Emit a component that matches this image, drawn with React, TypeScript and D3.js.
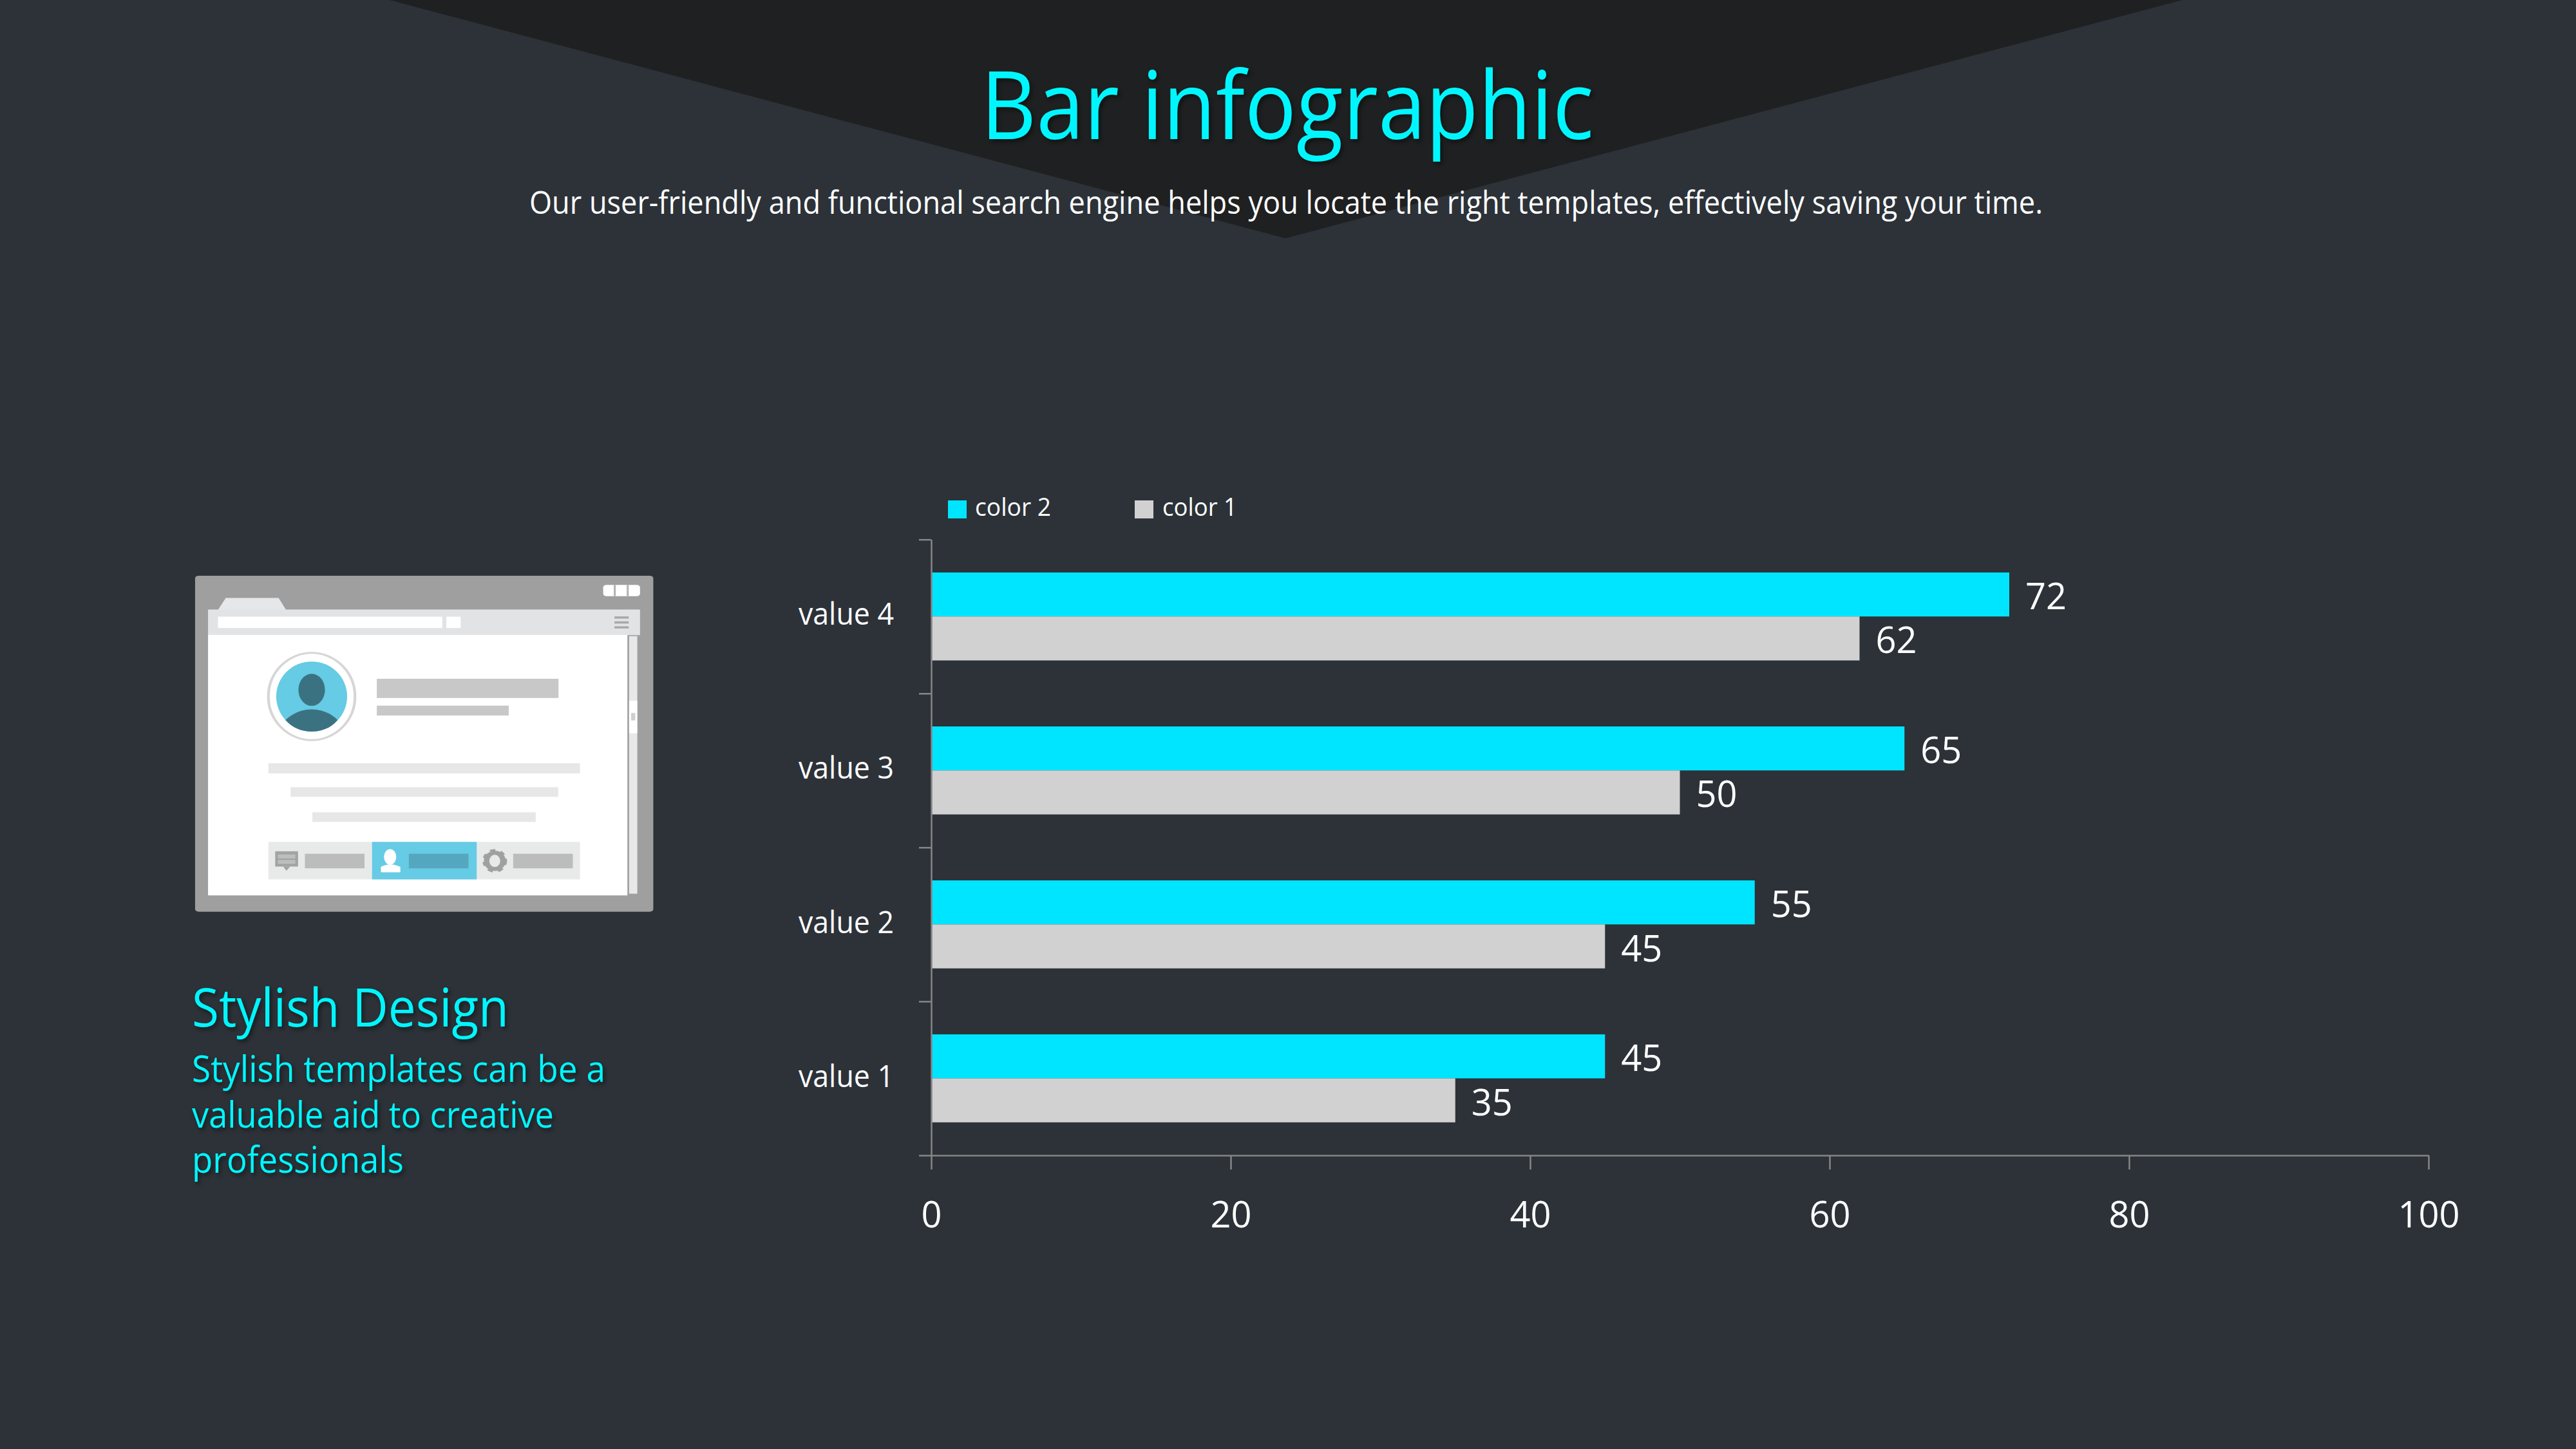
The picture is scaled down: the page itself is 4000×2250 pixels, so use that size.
import React, { useEffect, useRef } from "react";
import { select, axisBottom, axisLeft, scaleLinear, scaleBand } from "d3";

const categories = ["value 1", "value 2", "value 3", "value 4"];
const color1Values = [35, 45, 50, 62];
const color2Values = [45, 55, 65, 72];
const seriesNames = ["color 2", "color 1"];
const xTickValues = [0, 20, 40, 60, 80, 100];
const paragraphLines = [
  "Stylish templates can be a",
  "valuable aid to creative",
  "professionals",
];
const paragraphWidths = [642, 562, 329];

const FONT = "'Open Sans', 'Noto Sans', sans-serif";
const BG = "#2c3238";
const CYAN_BAR = "#00e5ff";
const CYAN_TEXT = "#00f6ff";
const GREY_BAR = "#d1d1d1";
const AXIS = "#868686";
const ICON_BLUE = "#66cbe4";

const plot = { left: 1446, right: 3771, top: 837.7, bottom: 1794 };
const shadow = "drop-shadow(3px 4px 3px rgba(0,0,0,0.45))";

// browser window mockup, coords are in a stretched space so the circles are ellipses here
const BrowserMock = () => (
  <g transform="translate(250,850) scale(0.5294,0.3827)" filter="url(#soft)">
    <rect x={100} y={115} width={1344} height={1363} rx={10} fill="#9f9f9f" />
    <rect x={1297} y={152} width={108} height={46} rx={10} fill="#fff" />
    <rect x={1328} y={152} width={6} height={46} fill="#b5b5b5" />
    <rect x={1366} y={152} width={6} height={46} fill="#b5b5b5" />
    <polygon points="167,254 190,205 345,205 367,254" fill="#e6e7e8" />
    <rect x={138} y={252} width={1267} height={104} fill="#e2e3e5" />
    <rect x={167} y={281} width={658} height={46} fill="#fff" />
    <rect x={837} y={281} width={42} height={46} fill="#fff" />
    <rect x={1330} y={280} width={42} height={9} fill="#a8a8a8" />
    <rect x={1330} y={300} width={42} height={9} fill="#a8a8a8" />
    <rect x={1330} y={320} width={42} height={9} fill="#a8a8a8" />
    <rect x={138} y={355} width={1230} height={1057} fill="#fff" />
    <rect x={1373} y={360} width={24} height={1045} fill="#e8e8e8" />
    <rect x={1373} y={622} width={24} height={132} fill="#fff" />
    <rect x={1379} y={672} width={12} height={30} fill="#cfcfcf" />

    <ellipse cx={442} cy={605} rx={127} ry={177} fill="#fff" stroke="#d6d6d6" strokeWidth={8} />
    <ellipse cx={442} cy={605} rx={104} ry={142} fill={ICON_BLUE} />
    <ellipse cx={442} cy={578} rx={39} ry={65} fill="#3b7282" />
    <path d="M365 700 Q400 657 442 657 Q485 657 518 700 Q490 747 442 747 Q395 747 365 700Z" fill="#3b7282" />

    <rect x={633} y={533} width={533} height={78} fill="#c9c8c9" />
    <rect x={633} y={642} width={387} height={40} fill="#c9c8c9" />
    <rect x={315} y={876} width={914} height={41} fill="#e7e7e7" />
    <rect x={380} y={973} width={785} height={39} fill="#e7e7e7" />
    <rect x={444} y={1075} width={655} height={39} fill="#e7e7e7" />

    <rect x={315} y={1195} width={914} height={152} fill="#e8eaea" />
    <rect x={619} y={1195} width={307} height={152} fill={ICON_BLUE} />
    <rect x={422} y={1243} width={175} height={59} fill="#bcbcbc" />
    <rect x={727} y={1243} width={175} height={59} fill="#55a7bf" />
    <rect x={1033} y={1243} width={175} height={59} fill="#bcbcbc" />

    <rect x={335} y={1233} width={67} height={62} fill="#a3a3a3" />
    <polygon points="358,1295 379,1295 368,1312" fill="#a3a3a3" />
    <rect x={343} y={1246} width={51} height={16} fill="#bdbdbd" />
    <rect x={343} y={1268} width={51} height={16} fill="#bdbdbd" />

    <ellipse cx={672} cy={1256} rx={18} ry={32} fill="#fff" />
    <path d="M645 1318 L645 1296 Q672 1276 702 1296 L702 1318Z" fill="#fff" />

    <ellipse cx={979} cy={1272} rx={24} ry={33} fill="none" stroke="#a0a0a0" strokeWidth={16} />
    <ellipse cx={979} cy={1272} rx={31} ry={43} fill="none" stroke="#a0a0a0" strokeWidth={10} strokeDasharray="16 16" />
  </g>
);

const App = () => {
  const chartRef = useRef<SVGGElement | null>(null);

  useEffect(() => {
    const g = select(chartRef.current);
    g.selectAll("*").remove();

    const x = scaleLinear().domain([0, 100]).range([plot.left, plot.right]);
    const y = scaleBand()
      .domain([...categories].reverse())
      .range([plot.top, plot.bottom]);
    // gap width 150%: outer padding of 0.75 bar on each side of a pair
    const y1 = scaleBand()
      .domain(seriesNames)
      .range([0, y.bandwidth()])
      .paddingInner(0)
      .paddingOuter(0.75);
    const boundary = scaleLinear()
      .domain([0, categories.length])
      .range([plot.bottom, plot.top]);

    const series = [
      { name: "color 2", values: color2Values, fill: CYAN_BAR },
      { name: "color 1", values: color1Values, fill: GREY_BAR },
    ];

    series.forEach((s) => {
      const rows = categories.map((c, i) => ({ c, v: s.values[i] }));
      g.selectAll(`.bar-${s.name.replace(" ", "")}`)
        .data(rows)
        .join("rect")
        .attr("x", x(0))
        .attr("y", (d) => y(d.c)! + y1(s.name)!)
        .attr("width", (d) => x(d.v) - x(0))
        .attr("height", y1.bandwidth())
        .attr("fill", s.fill);
      g.selectAll(`.lab-${s.name.replace(" ", "")}`)
        .data(rows)
        .join("text")
        .attr("x", (d) => x(d.v) + 25)
        .attr("y", (d) => y(d.c)! + y1(s.name)! + y1.bandwidth() / 2)
        .attr("dy", "0.41em")
        .attr("font-size", 56)
        .attr("font-weight", 400)
        .attr("font-family", FONT)
        .attr("fill", "#fff")
        .text((d) => d.v);
    });

    // y axis: ticks sit on the band edges, labels in the band centre
    const edgeAxis = g
      .append("g")
      .attr("transform", `translate(${plot.left},0)`)
      .call(
        axisLeft(boundary)
          .ticks(categories.length)
          .tickSize(19)
          .tickSizeOuter(0)
          .tickFormat(() => "")
      );
    edgeAxis.selectAll("line,path").attr("stroke", AXIS).attr("stroke-width", 2.5);

    const labelAxis = g
      .append("g")
      .attr("transform", `translate(${plot.left},0)`)
      .call(axisLeft(y).tickSize(0).tickPadding(58));
    labelAxis.select(".domain").remove();
    labelAxis
      .selectAll("text")
      .attr("dy", "0.28em")
      .attr("font-size", 47)
      .attr("font-weight", 400)
      .attr("font-family", FONT)
      .attr("fill", "#fff")
      .attr("textLength", 148)
      .attr("lengthAdjust", "spacingAndGlyphs");

    const xAxis = g
      .append("g")
      .attr("transform", `translate(0,${plot.bottom})`)
      .call(
        axisBottom(x)
          .tickValues(xTickValues)
          .tickSize(22)
          .tickSizeOuter(0)
          .tickPadding(50)
      );
    xAxis.selectAll("line,path").attr("stroke", AXIS).attr("stroke-width", 2.5);
    xAxis
      .selectAll("text")
      .attr("font-size", 56)
      .attr("font-weight", 400)
      .attr("font-family", FONT)
      .attr("fill", "#fff");
  }, []);

  return (
    <svg
      width={4000}
      height={2250}
      viewBox="0 0 4000 2250"
      style={{ position: "absolute", left: 0, top: 0, display: "block" }}
    >
      <defs>
        <filter id="soft" x="-2%" y="-2%" width="104%" height="104%">
          <feGaussianBlur stdDeviation="1.4" />
        </filter>
      </defs>
      <rect width={4000} height={2250} fill={BG} />
      <polygon points="605,0 3389,0 1996,370" fill="#1f2021" />

      <text
        x={1999}
        y={216}
        textAnchor="middle"
        fontFamily={FONT}
        fontWeight={400}
        fontSize={147}
        fill={CYAN_TEXT}
        textLength={952}
        lengthAdjust="spacingAndGlyphs"
        style={{ filter: shadow }}
      >
        Bar infographic
      </text>
      <text
        x={1997}
        y={332}
        textAnchor="middle"
        fontFamily={FONT}
        fontWeight={400}
        fontSize={50}
        fill="#fff"
        textLength={2350}
        lengthAdjust="spacingAndGlyphs"
      >
        Our user-friendly and functional search engine helps you locate the right templates, effectively saving your time.
      </text>

      <BrowserMock />

      <text
        x={298}
        y={1594}
        fontFamily={FONT}
        fontWeight={400}
        fontSize={83}
        fill={CYAN_TEXT}
        textLength={492}
        lengthAdjust="spacingAndGlyphs"
        style={{ filter: shadow }}
      >
        Stylish Design
      </text>
      {paragraphLines.map((line, i) => (
        <text
          key={line}
          x={298}
          y={1680 + i * 70.5}
          fontFamily={FONT}
          fontWeight={400}
          fontSize={57}
          fill={CYAN_TEXT}
          textLength={paragraphWidths[i]}
          lengthAdjust="spacingAndGlyphs"
          style={{ filter: shadow }}
        >
          {line}
        </text>
      ))}

      {/* legend */}
      <rect x={1472} y={777} width={29} height={28} fill={CYAN_BAR} />
      <text x={1514} y={801} fontFamily={FONT} fontWeight={400} fontSize={38} fill="#fff" textLength={118} lengthAdjust="spacingAndGlyphs">
        {seriesNames[0]}
      </text>
      <rect x={1762} y={777} width={29} height={28} fill={GREY_BAR} />
      <text x={1805} y={801} fontFamily={FONT} fontWeight={400} fontSize={38} fill="#fff" textLength={116} lengthAdjust="spacingAndGlyphs">
        {seriesNames[1]}
      </text>

      <g ref={chartRef} />
    </svg>
  );
};

export default App;
